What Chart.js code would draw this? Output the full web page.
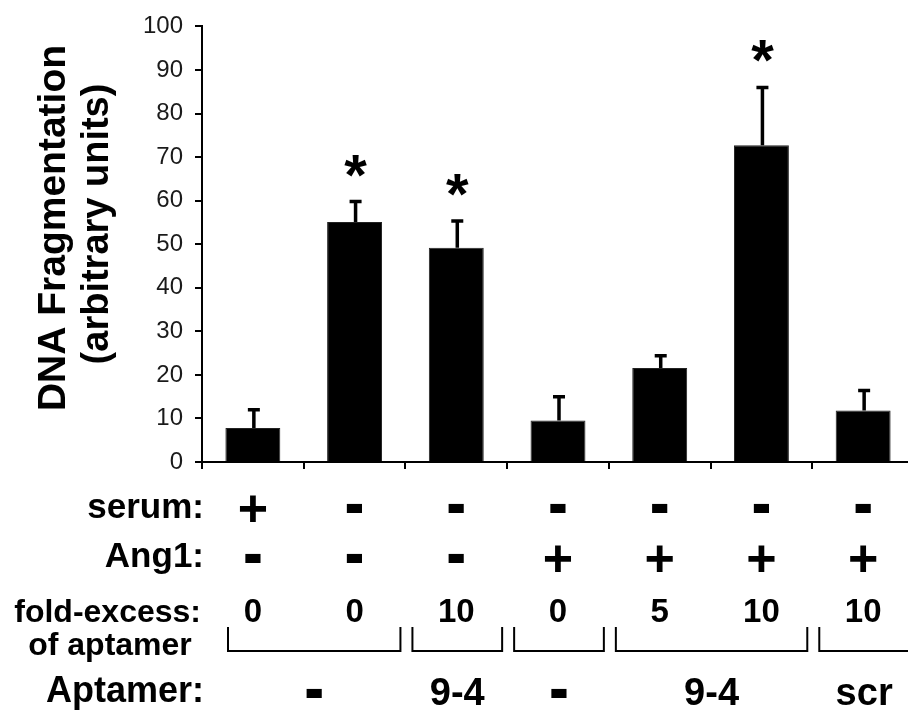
<!DOCTYPE html>
<html>
<head>
<meta charset="utf-8">
<script src="https://cdn.jsdelivr.net/npm/chart.js@4.4.1/dist/chart.umd.min.js"></script>
<style>
  html, body { margin: 0; padding: 0; background: #fff; overflow: hidden; }
</style>
</head>
<body>
<canvas id="fragChart" width="914" height="711"></canvas>
<script>
// data
const groups = ['1', '2', '3', '4', '5', '6', '7'];
const fragmentation = [7.8, 55.1, 49.2, 9.5, 21.6, 72.7, 11.8];
const errors = [4.2, 4.7, 6.1, 5.5, 2.8, 13.3, 4.6];
const significant = [false, true, true, false, false, true, false];
const yTicks = [0, 10, 20, 30, 40, 50, 60, 70, 80, 90, 100];

// condition table under the bars
const serum = ['+', '-', '-', '-', '-', '-', '-'];
const ang1 = ['-', '-', '-', '+', '+', '+', '+'];
const foldExcess = ['0', '0', '10', '0', '5', '10', '10'];
const aptamerGroups = [[0, 1], [2, 2], [3, 3], [4, 5], [6, 6]];
const aptamerNames = ['-', '9-4', '-', '9-4', 'scr'];

const FONT = "'Liberation Sans', Arial, Helvetica, sans-serif";

// draw text centred on a point using the glyph box
function centerText(ctx, txt, cx, cy) {
  const m = ctx.measureText(txt);
  const asc = m.actualBoundingBoxAscent, desc = m.actualBoundingBoxDescent;
  ctx.fillText(txt, cx, cy + (asc - desc) / 2);
}

// + and - are printed big and chunky in the figure
function drawSymbol(ctx, s, cx, cy) {
  ctx.save();
  ctx.font = 'bold 52px ' + FONT;
  ctx.translate(cx, cy);
  if (s === '-') ctx.scale(1.15, 1.45);
  centerText(ctx, s, 0, 0);
  ctx.restore();
}

const annotate = {
  id: 'annotate',
  afterDatasetsDraw(chart) {
    const {ctx, scales: {x, y}} = chart;
    ctx.save();
    ctx.strokeStyle = '#000';
    ctx.fillStyle = '#000';
    ctx.lineWidth = 3.5;
    fragmentation.forEach((v, i) => {
      const cx = x.getPixelForValue(i) + 1;
      const top = y.getPixelForValue(v + errors[i]);
      ctx.beginPath();
      ctx.moveTo(cx, y.getPixelForValue(v));
      ctx.lineTo(cx, top);
      ctx.moveTo(cx - 6, top);
      ctx.lineTo(cx + 6, top);
      ctx.stroke();
      if (significant[i]) {
        ctx.font = 'bold 58px ' + FONT;
        ctx.textAlign = 'center';
        centerText(ctx, '*', cx, top - 36);
      }
    });
    ctx.restore();
  },
  afterDraw(chart) {
    const {ctx, scales: {x}} = chart;
    ctx.save();
    ctx.fillStyle = '#000';

    // y axis title, two lines
    ctx.save();
    ctx.textAlign = 'center';
    ctx.font = 'bold 39px ' + FONT;
    ctx.translate(55, 228);
    ctx.rotate(-Math.PI / 2);
    centerText(ctx, 'DNA Fragmentation', 0, 0);
    ctx.restore();
    ctx.save();
    ctx.textAlign = 'center';
    ctx.font = 'bold 38px ' + FONT;
    ctx.translate(98, 224);
    ctx.rotate(-Math.PI / 2);
    centerText(ctx, '(arbitrary units)', 0, 0);
    ctx.restore();

    // row labels
    ctx.textAlign = 'right';
    ctx.textBaseline = 'alphabetic';
    ctx.font = 'bold 35px ' + FONT;
    ctx.fillText('serum:', 204, 518);
    ctx.fillText('Ang1:', 204, 567);
    ctx.font = 'bold 32px ' + FONT;
    ctx.fillText('fold-excess:', 201, 622);
    ctx.textAlign = 'center';
    ctx.fillText('of aptamer', 110, 655);
    ctx.textAlign = 'right';
    ctx.font = 'bold 36px ' + FONT;
    ctx.fillText('Aptamer:', 204, 702);

    // per-bar conditions
    ctx.textAlign = 'center';
    groups.forEach((g, i) => {
      const cx = x.getPixelForValue(i);
      drawSymbol(ctx, serum[i], cx, 508);
      drawSymbol(ctx, ang1[i], cx, 558);
      ctx.font = 'bold 33px ' + FONT;
      ctx.fillText(foldExcess[i], cx, 622);
    });

    // brackets and aptamer names
    const half = (x.getPixelForValue(1) - x.getPixelForValue(0)) / 2;
    ctx.strokeStyle = '#000';
    ctx.lineWidth = 2;
    aptamerGroups.forEach(([a, b], k) => {
      const left = x.getPixelForValue(a) - half + (k === 0 ? 26 : 7);
      const right = x.getPixelForValue(b) + half - 5;
      ctx.beginPath();
      ctx.moveTo(left, 627);
      ctx.lineTo(left, 651);
      ctx.lineTo(right, 651);
      ctx.lineTo(right, 627);
      ctx.stroke();
      const name = aptamerNames[k];
      const cx = (left + right) / 2;
      if (name === '-') {
        drawSymbol(ctx, name, cx, 693);
      } else {
        ctx.font = 'bold 38px ' + FONT;
        ctx.fillText(name, cx, 705);
      }
    });
    ctx.restore();
  }
};

new Chart(document.getElementById('fragChart'), {
  type: 'bar',
  data: {
    labels: groups,
    datasets: [{
      data: fragmentation,
      backgroundColor: '#000',
      borderColor: '#222',
      borderWidth: 1,
      barPercentage: 0.54,
      categoryPercentage: 1
    }]
  },
  options: {
    responsive: false,
    animation: false,
    layout: { padding: { top: 20, left: 0, right: 0, bottom: 0 } },
    plugins: {
      legend: { display: false },
      tooltip: { enabled: false }
    },
    scales: {
      x: {
        grid: { drawOnChartArea: false, drawTicks: true, tickLength: 7, color: '#000', lineWidth: 2 },
        border: { color: '#000', width: 2 },
        ticks: { display: false },
        afterFit(s) { s.height = 249; }
      },
      y: {
        min: 0,
        max: 100,
        afterBuildTicks(s) { s.ticks = yTicks.map(v => ({ value: v })); },
        grid: { drawOnChartArea: false, drawTicks: true, tickLength: 7, color: '#000', lineWidth: 2 },
        border: { color: '#000', width: 2 },
        ticks: {
          padding: 12,
          color: '#1a1a1a',
          font: { family: FONT, size: 24 }
        },
        afterFit(s) { s.width = 202; }
      }
    }
  },
  plugins: [annotate]
});
</script>
</body>
</html>
